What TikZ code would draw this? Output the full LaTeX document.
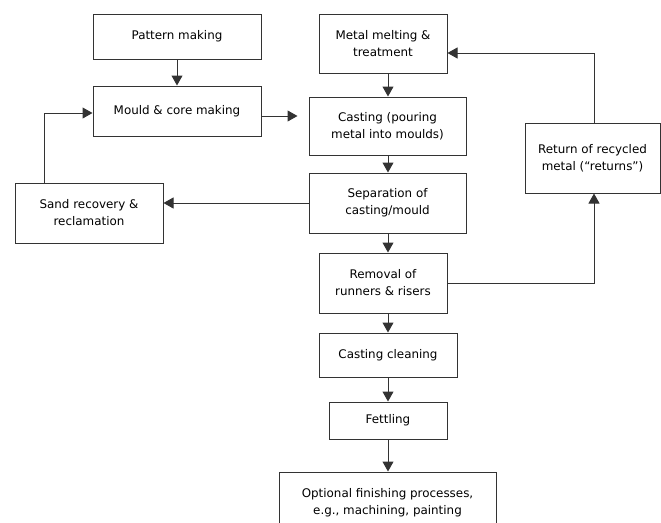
\documentclass[tikz,border=0pt]{standalone}
\usepackage{fontspec}
\setmainfont{DejaVu Sans}
\usepackage{tikz}
\usetikzlibrary{arrows.meta,calc}

\tikzset{
  stage/.style={draw=black!80, line width=1pt, rectangle, align=center,
    font=\fontsize{11.9}{17}\selectfont, inner sep=0pt},
  flow/.style={draw=black!80, line width=1pt, -{Triangle[length=10pt,width=11pt]}}
}

\begin{document}
\begin{tikzpicture} [x=1pt, y=-1pt]

\clip (0,0) rectangle (661,522);

\node [stage, minimum width=168pt, minimum height=45pt] (pattern) at (177,36.5) {Pattern making};
\node [stage, minimum width=168pt, minimum height=50pt] (mould) at (177,111) {Mould \& core making};
\node [stage, minimum width=148pt, minimum height=60pt] (sand) at (89,213) {Sand recovery \&\\reclamation};

\node [stage, minimum width=128pt, minimum height=59pt] (metal) at (383,43.5) {Metal melting \&\\treatment};
\node [stage, minimum width=157pt, minimum height=58pt] (casting) at (387.5,126) {Casting (pouring\\metal into moulds)};
\node [stage, minimum width=157pt, minimum height=60pt] (separation) at (387.5,203) {Separation of\\casting/mould};
\node [stage, minimum width=128pt, minimum height=60pt] (removal) at (383,283) {Removal of\\runners \& risers};
\node [stage, minimum width=138pt, minimum height=44pt] (cleaning) at (388,355) {Casting cleaning};
\node [stage, minimum width=118pt, minimum height=37pt] (fettling) at (388,420.5) {Fettling};
\node [stage, minimum width=217pt, minimum height=62pt] (optional) at (387.5,503) {Optional finishing processes,\\e.g., machining, painting};

\node [stage, minimum width=135pt, minimum height=70pt] (return) at (592.5,158) {Return of recycled\\metal (“returns”)};

\coordinate (col) at (388,0);

\draw [flow] (pattern) -- (mould);
\draw [flow, shorten >=11pt] ([yshift=-5pt]mould.east) -- ([yshift=-5pt]mould.east -| casting.west);
\draw [flow] ([xshift=30pt]sand.north west) |- ([yshift=-2pt]mould.west);
\draw [flow] (separation.west) -- (separation.west -| sand.east);

\draw [flow] (metal.south -| col) -- (casting.north -| col);
\draw [flow] (casting.south -| col) -- (separation.north -| col);
\draw [flow] (separation.south -| col) -- (removal.north -| col);
\draw [flow] (removal.south -| col) -- (cleaning.north -| col);
\draw [flow] (cleaning.south -| col) -- (fettling.north -| col);
\draw [flow] (fettling.south -| col) -- (optional.north -| col);

\draw [flow] (removal.east) -| ([xshift=1.5pt]return.south);
\draw [flow] ([xshift=1.5pt]return.north) |- ([yshift=-9.5pt]metal.east);

\end{tikzpicture}
\end{document}
